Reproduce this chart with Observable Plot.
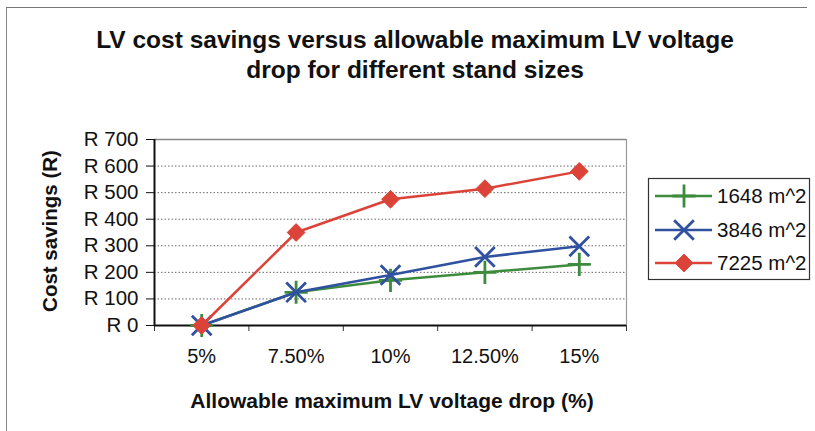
<!DOCTYPE html>
<html>
<head>
<meta charset="utf-8">
<script src="https://cdn.jsdelivr.net/npm/d3@7"></script>
<script src="https://cdn.jsdelivr.net/npm/@observablehq/plot@0.6"></script>
<style>
  html, body { margin: 0; padding: 0; background: #fff; }
  #wrap { position: relative; width: 815px; height: 431px; font-family: "Liberation Sans", Arial, sans-serif; color: #111; overflow: hidden; }
  #wrap svg { position: absolute; left: 0; top: 0; }
  .frame { position: absolute; left: 6px; top: 7px; width: 800px; height: 430px; border-top: 1.5px solid #777; border-left: 1.5px solid #888; }
  .title { position: absolute; left: 15px; width: 800px; text-align: center; font-weight: bold; font-size: 24.5px; line-height: 30px; }
  .xlabel { position: absolute; left: 142px; width: 500px; top: 389px; text-align: center; font-weight: bold; font-size: 21px; white-space: nowrap; }
  .ylabel { position: absolute; left: 50px; top: 231px; transform: translate(-50%, -50%) rotate(-90deg); font-weight: bold; font-size: 20.5px; white-space: nowrap; }
</style>
</head>
<body>
<div id="wrap">
  <div class="frame"></div>
  <div class="title" style="top:25px">LV cost savings versus allowable maximum LV voltage<br>drop for different stand sizes</div>
  <div class="ylabel">Cost savings (R)</div>
  <div class="xlabel">Allowable maximum LV voltage drop (%)</div>
</div>
<script>
// ---- data ----
const categories = ["5%", "7.50%", "10%", "12.50%", "15%"];
const seriesNames = ["1648 m^2", "3846 m^2", "7225 m^2"];
const s1648 = [0, 125, 170, 200, 230];
const s3846 = [0, 125, 190, 258, 298];
const s7225 = [0, 350, 475, 515, 580];
const yTicks = [0, 100, 200, 300, 400, 500, 600, 700];

const colors = ["#3d8b3d", "#3050a0", "#dc4338"];
const symbols = ["plus", "times", "diamond2"];
const radii = [7.5, 9, 8];

const seriesValues = [s1648, s3846, s7225];
const rows = [];
seriesValues.forEach((vals, si) => {
  vals.forEach((v, i) => rows.push({ idx: i + 0.5, value: v, series: seriesNames[si] }));
});

const lineMarks = [];
seriesNames.forEach((name, si) => {
  const d = rows.filter(r => r.series === name);
  lineMarks.push(Plot.line(d, { x: "idx", y: "value", stroke: colors[si], strokeWidth: 2.5 }));
  if (symbols[si] === "diamond2") {
    lineMarks.push(Plot.dot(d, { x: "idx", y: "value", symbol: "diamond2", r: radii[si], fill: colors[si], stroke: colors[si], strokeWidth: 1 }));
  } else {
    lineMarks.push(Plot.dot(d, { x: "idx", y: "value", symbol: symbols[si], r: radii[si], stroke: colors[si], strokeWidth: 2.8 }));
  }
});

const boundaries = d3.range(0, categories.length + 1);
const centers = categories.map((c, i) => i + 0.5);

const chart = Plot.plot({
  width: 815,
  height: 431,
  marginLeft: 154,
  marginRight: 189,
  marginTop: 139,
  marginBottom: 106,
  style: { fontFamily: "'Liberation Sans', Arial, sans-serif", fontSize: "20px", background: "transparent", color: "#111" },
  x: { domain: [0, categories.length], axis: null, label: null },
  y: { domain: [0, 700], axis: null, label: null },
  marks: [
    Plot.gridY(yTicks.filter(t => t > 0 && t < 700), { stroke: "#444", strokeOpacity: 0.8, strokeDasharray: "1.5,2", strokeWidth: 1 }),
    Plot.ruleY([700], { stroke: "#888", strokeWidth: 1.5 }),
    Plot.ruleX([categories.length], { stroke: "#999", strokeWidth: 1.2 }),
    Plot.axisY({ ticks: yTicks, tickFormat: d => `R ${d}`, tickSize: 8, tickPadding: 8, fontSize: 20.5, stroke: "#111", label: null }),
    Plot.axisX({ ticks: boundaries, tickFormat: () => "", tickSize: 6, stroke: "#333", label: null }),
    Plot.axisX({ ticks: centers, tickFormat: d => categories[Math.floor(d)], tickSize: 0, tickPadding: 23, fontSize: 20, label: null }),
    Plot.ruleX([0], { stroke: "#111", strokeWidth: 2 }),
    Plot.ruleY([0], { stroke: "#111", strokeWidth: 2 }),
    ...lineMarks
  ]
});
document.getElementById("wrap").appendChild(chart);

// ---- legend ----
const svg = d3.select(chart);
const lg = svg.append("g").attr("text-anchor", "start");
lg.append("rect").attr("x", 648.5).attr("y", 178.5).attr("width", 161).attr("height", 101)
  .attr("fill", "#fff").attr("stroke", "#333").attr("stroke-width", 1.2);
const rowY = [196, 230, 263];
const d3sym = { plus: d3.symbolPlus, times: d3.symbolTimes, diamond2: d3.symbolDiamond2 };
seriesNames.forEach((name, si) => {
  const y = rowY[si];
  lg.append("line").attr("x1", 655).attr("x2", 712).attr("y1", y).attr("y2", y)
    .attr("stroke", colors[si]).attr("stroke-width", 2.5);
  const r = radii[si];
  const path = d3.symbol(d3sym[symbols[si]], Math.PI * r * r)();
  const p = lg.append("path").attr("d", path).attr("transform", `translate(684,${y})`);
  if (symbols[si] === "diamond2") p.attr("fill", colors[si]).attr("stroke", colors[si]);
  else p.attr("fill", "none").attr("stroke", colors[si]).attr("stroke-width", 2.8);
  lg.append("text").attr("x", 717).attr("y", y).attr("dy", "0.35em")
    .attr("font-size", 20.5).attr("fill", "#111").text(name);
});
</script>
</body>
</html>
